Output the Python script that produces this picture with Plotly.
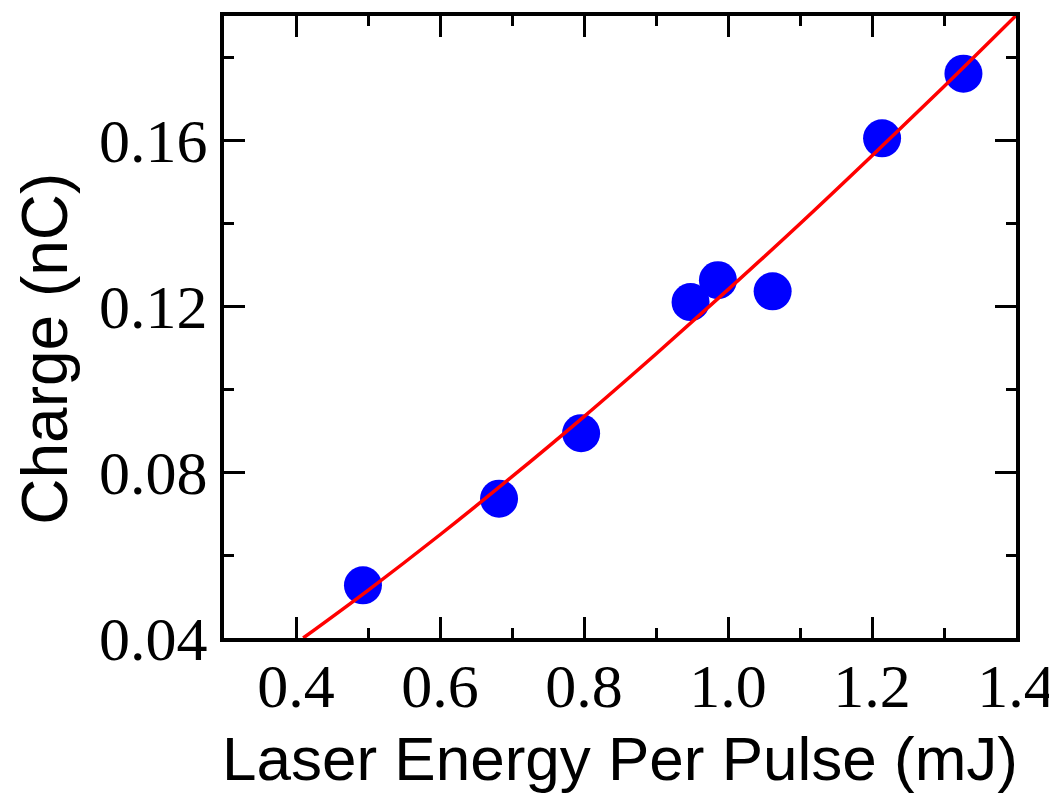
import plotly.graph_objects as go

# Measured data points
energy_mj = [0.493, 0.682, 0.796, 0.948, 0.986, 1.062, 1.214, 1.327]
charge_nc = [0.0527, 0.0736, 0.0894, 0.1210, 0.1263, 0.1236, 0.1605, 0.1761]

# Fit curve
fit_x = [0.41, 0.5, 0.6, 0.7, 0.8, 0.9, 1.0, 1.1, 1.2, 1.3, 1.4]
fit_y = [0.0400, 0.0515, 0.0649, 0.0789, 0.0934, 0.1085, 0.1240, 0.1399, 0.1563, 0.1730, 0.1901]

x_ticks = [0.4, 0.6, 0.8, 1.0, 1.2, 1.4]
y_ticks = [0.04, 0.08, 0.12, 0.16]

x_title = "Laser Energy Per Pulse (mJ)"
y_title = "Charge (nC)"

fig = go.Figure()
fig.add_trace(go.Scatter(x=energy_mj, y=charge_nc, mode="markers",
                         marker=dict(color="#0000FF", size=38, line=dict(width=0)),
                         showlegend=False))
fig.add_trace(go.Scatter(x=fit_x, y=fit_y, mode="lines", line_shape="spline",
                         line=dict(color="#FF0000", width=3.5), showlegend=False))

axis_common = dict(showline=True, linecolor="black", linewidth=4, mirror="allticks",
                   ticks="inside", ticklen=21, tickwidth=3, tickcolor="black",
                   showgrid=False, zeroline=False,
                   tickfont=dict(family="Liberation Serif", size=62, color="black"))

fig.update_xaxes(range=[0.3, 1.4], tickvals=x_ticks, tickformat=".1f",
                 ticklabelstandoff=-9,
                 minor=dict(ticks="inside", ticklen=10, tickwidth=3, tickcolor="black",
                            dtick=0.1, tick0=0.3, showgrid=False),
                 **axis_common)
fig.update_yaxes(range=[0.04, 0.19], tickvals=y_ticks, tickformat=".2f",
                 ticklabelstandoff=0,
                 minor=dict(ticks="inside", ticklen=10, tickwidth=3, tickcolor="black",
                            dtick=0.02, tick0=0.04, showgrid=False),
                 **axis_common)

fig.add_annotation(text=x_title, xref="paper", yref="paper", x=0.5, y=-0.194,
                   xanchor="center", yanchor="middle", showarrow=False,
                   font=dict(family="Liberation Sans", size=62, color="black"))
fig.add_annotation(text=y_title, xref="paper", yref="paper", x=-0.226, y=0.465,
                   xanchor="center", yanchor="middle", textangle=-90, showarrow=False,
                   borderpad=0,
                   font=dict(family="Liberation Sans", size=64, color="black"))

fig.update_layout(width=1057, height=798, plot_bgcolor="white", paper_bgcolor="white",
                  margin=dict(l=216, r=49, t=4, b=168))

fig.write_html("out.html")
